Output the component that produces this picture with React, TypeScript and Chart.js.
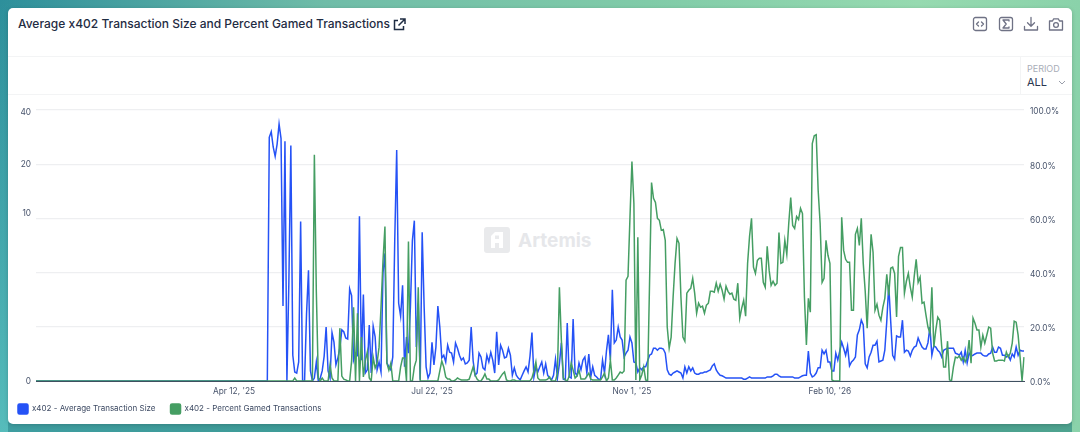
import React, { useEffect, useRef } from "react";
import { Chart, LinearScale, registerables } from "chart.js";

Chart.register(...registerables);

const FONT = "Inter, 'Noto Sans', sans-serif";
const TITLE = "Average x402 Transaction Size and Percent Gamed Transactions";
const SERIES_NAMES = ["x402 - Average Transaction Size", "x402 - Percent Gamed Transactions"];
const FIRST_DAY_UTC = [2025, 0, 1];
const DAY_COUNT = 505;
const TICK_DAYS = ["Apr 12, '25", "Jul 22, '25", "Nov 1, '25", "Feb 10, '26"];
const LEFT_TICKS = [0, 10, 20, 40];
const LEFT_MAX = 41;
const RIGHT_STEP = 20;

const avgTxSize = [
  0,0,0,0,0,0,0,0,0,0, 0,0,0,0,0,0,0,0,0,0, 0,0,0,0,0,0,0,0,0,0, 0,0,0,0,0,0,0,0,0,0,
  0,0,0,0,0,0,0,0,0,0, 0,0,0,0,0,0,0,0,0,0, 0,0,0,0,0,0,0,0,0,0, 0,0,0,0,0,0,0,0,0,0,
  0,0,0,0,0,0,0,0,0,0, 0,0,0,0,0,0,0,0,0,0, 0,0,0,0,0,0,0,0,0,0,
  0,0,0,0,0,0,0,0,0,28.5,
  30.7,25,22,26,34,28,2.11,27,0,3.38,
  25.5,.51,.16,.14,.36,8.8,0,0,1.77,4.1,
  .18,0,.05,.36,0,.05,.18,.49,1.3,.18,
  .05,1.12,.84,.3,.45,.68,1.21,1.15,.96,.93,
  2.95,2.6,.4,.56,.51,9.5,.4,2.65,.14,.2,
  1.37,.14,1.33,.99,.2,.36,.16,3.9,5.4,.34,
  .26,.2,.47,6.6,24,2.23,1.69,3.15,.26,.99,
  .56,2.07,6.6,8.9,.71,2.23,.02,7.5,2.07,.26,
  .05,.14,.84,.3,.71,2.11,1.3,.45,.51,.36,
  .76,.58,.56,.36,.82,.68,.51,.4,.45,.32,
  .34,.4,1.3,.38,.1,.14,.56,.47,.24,.2,
  .51,.36,.58,.4,.14,1.15,.3,.76,.63,.45,
  .47,.68,.51,.1,.24,.1,.05,.02,.1,.18,
  .26,.16,.49,1.12,.07,.26,.16,.26,.36,.14,
  .32,.1,.05,.02,.1,.42,.05,.32,.82,.03,
  .02,1.44,.07,.05,1.58,.14,.1,.34,.2,.4,
  .47,.14,.54,.07,.26,.1,.07,.03,.03,.4,
  .14,.61,1.05,.4,2.9,.82,.9,1.3,.99,.9,
  .47,.56,.63,.99,.82,.36,.34,.16,.24,.2,
  .26,.26,.38,.51,.54,.68,.68,.63,.68,.68,
  .66,.56,.2,.12,.1,.14,.16,.18,.16,.14,
  .05,.26,.14,.26,.18,.24,.14,.12,.12,.14,
  .14,.16,.16,.18,.2,.28,.32,.2,.14,.1,
  .09,.07,.05,.05,.05,.05,.05,.05,.05,.05,
  .05,.03,.03,.05,.07,.05,.05,.05,.05,.05,
  .05,.05,.05,.07,.07,.07,.09,.12,.12,.09,
  .07,.07,.07,.07,.07,.07,.07,.05,.05,.05,
  .07,.09,.1,.1,.61,.14,.07,.09,.14,.24,
  .24,.63,.54,.63,.36,.36,.18,.18,.56,.4,
  .61,.84,.68,.51,.74,.28,.36,.4,.47,1.05,
  1.21,1.54,1.37,.32,.24,.47,.58,.76,.76,.87,
  .36,.38,.4,.63,1.5,3.15,1.5,.51,.42,1.02,
  .99,.99,1.54,.58,.63,.61,.49,.63,.71,.74,
  .96,.82,.71,.66,.66,.82,1.3,.51,.74,.71,
  .63,.58,.47,.63,.66,.68,.68,.68,.68,.56,
  .54,.51,.58,.36,.63,.34,.56,.49,.51,.54,
  .56,.56,.56,.51,.49,.49,.54,.56,.71,.58,
  .58,.71,.68,.51,.51,.47,.51,.4,.54,.47,
  .71,.51,.63,.61,.61,
];

const pctGamed = [
  0,0,0,0,0,0,0,0,0,0, 0,0,0,0,0,0,0,0,0,0, 0,0,0,0,0,0,0,0,0,0, 0,0,0,0,0,0,0,0,0,0,
  0,0,0,0,0,0,0,0,0,0, 0,0,0,0,0,0,0,0,0,0, 0,0,0,0,0,0,0,0,0,0, 0,0,0,0,0,0,0,0,0,0,
  0,0,0,0,0,0,0,0,0,0, 0,0,0,0,0,0,0,0,0,0, 0,0,0,0,0,0,0,0,0,0,
  0,0,0,0,0,0,0,0,0,0, 0,0,0,0,0,0,0,0,0,0,
  0,0,1.1,0,0,0,0,0,0,0,
  0,0,83.5,33,1.1,0,1.1,0,0,0,
  5.9,1.1,0,0,0,19.5,1.8,.7,.4,0,
  0,7.4,27.2,0,25,0,16.2,1.5,7.4,10.7,
  1.1,0,8.8,4.8,6.6,12.5,27.2,44.2,57,6.6,
  4,6.6,0,0,0,0,5.2,8.5,8.5,0,
  51.5,0,0,5.2,7.7,34.6,0,0,0,0,
  0,0,0,0,0,0,3.7,7.4,5.2,1.5,
  .7,.7,0,0,.4,1.1,.7,.4,.4,.4,
  .4,.7,2.9,5.2,2.2,.7,0,0,1.1,2.6,
  .7,.7,0,0,0,0,.4,1.5,2.6,3.3,
  .4,0,0,.4,.4,0,0,0,0,0,
  0,0,0,1.1,3.7,7,1.1,.4,.4,.4,
  .4,.7,1.5,0,0,0,2.9,34.6,15.1,1.1,
  .4,0,1.8,6.6,4,1.1,1.8,4,.7,.7,
  .7,1.8,2.9,.7,.4,.4,.4,.4,.4,1.5,
  2.9,0,1.1,7.7,.4,.4,1.1,2.2,3.3,2.9,
  3.7,37.2,38.6,60.4,81,65.5,.4,53,.4,2.2,
  5.2,.4,0,36.8,73.2,67.4,65.9,60,59.3,55.6,
  55.9,51.9,19.9,12.1,16.2,30.9,43.4,52.6,50.8,30.9,
  16.2,14.7,32.4,33.5,34.2,37.9,32.4,25,28.7,27.2,
  27.6,25,28,28.7,33.1,33.1,32.8,36.1,33.1,35.7,
  33.5,30.2,35,33.1,32,32.4,30.2,29.8,36.1,23.2,
  26.9,29.8,23.9,43.4,53.4,60,42,39.7,44.5,45.3,
  45.3,36.4,34.6,49.7,40.8,35.3,36.8,35.3,36.1,54.8,
  43.4,43.8,51.9,46.7,58.2,67.7,57.4,56.3,60.7,59.6,
  63.7,61.8,30.9,13.3,30.5,25.4,87.6,90.5,90.9,70.3,
  58.2,36.4,37.9,51.9,46.4,43.4,.4,0,0,0,
  0,60.4,48.2,44.9,43.8,43.8,26.1,26.1,54.1,56.3,
  50,60,43.4,33.1,19.5,37.2,54.1,47.5,26.1,28.3,
  24.3,22.4,27.2,30.5,39.4,31.6,41.6,42,39.7,23.6,
  46,49.3,49.3,32.4,36.8,39.7,34.6,30.9,38.6,44.9,
  36.4,38.3,28.7,29.1,24.3,19.9,17.7,34.6,12.5,18.8,
  23.6,22.4,12.9,5.2,5.2,14.7,.4,0,5.2,8.8,
  8.5,9.2,7.7,8.8,7,8.8,15.1,6.6,23.2,21.3,
  18.8,18.8,12.5,16.9,14,16.9,19.9,19.5,10.3,7.4,
  7.4,7.7,7.7,7.7,7.4,10.7,8.8,10.3,14,22.1,
  21.7,16.9,8.8,0,8.8,
];

const MONTHS = ["Jan","Feb","Mar","Apr","May","Jun","Jul","Aug","Sep","Oct","Nov","Dec"];
const categories: string[] = [];
for (let i = 0; i < DAY_COUNT; i++) {
  const d = new Date(Date.UTC(FIRST_DAY_UTC[0], FIRST_DAY_UTC[1], FIRST_DAY_UTC[2] + i));
  categories.push(`${MONTHS[d.getUTCMonth()]} ${d.getUTCDate()}, '${String(d.getUTCFullYear()).slice(2)}`);
}

const SYM_C = 1.3;
const sym = (v: number) => Math.log(1 + Math.max(v, 0) / SYM_C);

class SymlogScale extends LinearScale {
  static id = "symlog";
  static defaults = {};
  buildTicks() {
    return LEFT_TICKS.map((value) => ({ value }));
  }
  getPixelForValue(v: number) {
    return this.getPixelForDecimal(sym(v) / sym(this.max));
  }
  getValueForPixel(p: number) {
    return SYM_C * (Math.exp(this.getDecimalForPixel(p) * sym(this.max)) - 1);
  }
}
Chart.register(SymlogScale);

const BLUE = "#2552f6";
const GREEN = "#459e63";
const TICK_COLOR = "#47536b";
const GRID = "#eeeff1";

const legendShift = {
  id: "legendShift",
  afterLayout(chart: any) {
    chart.legend.left += 12;
  },
};

const Icon = ({ x, children }: any) => (
  <svg width="16" height="16" viewBox="0 0 16 16" fill="none" stroke="#6f7285" strokeWidth="1.3" strokeLinecap="round" strokeLinejoin="round"
    style={{ position: "absolute", left: x - 8, top: 16 }}>{children}</svg>
);

export default function App() {
  const ref = useRef<HTMLCanvasElement>(null);
  useEffect(() => {
    const chart = new Chart(ref.current!, {
      type: "line",
      plugins: [legendShift],
      data: {
        labels: categories,
        datasets: [
          { label: SERIES_NAMES[0], data: avgTxSize, yAxisID: "yLeft", borderColor: BLUE, backgroundColor: BLUE, borderWidth: 1.5, pointRadius: 0, tension: 0, order: 2 },
          { label: SERIES_NAMES[1], data: pctGamed, yAxisID: "yRight", borderColor: GREEN, backgroundColor: GREEN, borderWidth: 1.5, pointRadius: 0, tension: 0, order: 1 },
        ],
      },
      options: {
        animation: false,
        responsive: false,
        devicePixelRatio: 1,
        layout: { padding: { top: 110, left: 0, right: 0, bottom: 8 } },
        scales: {
          x: {
            offset: false,
            grid: { display: false, drawTicks: false },
            border: { color: "#3f5060", width: 1 },
            afterFit: (s: any) => { s.height = 17; },
            ticks: {
              autoSkip: false, maxRotation: 0, padding: 6, font: { family: FONT, size: 8.3 }, color: TICK_COLOR,
              callback(this: any, v: any) {
                const l = categories[v];
                return TICK_DAYS.includes(l) ? l : null;
              },
            },
          },
          yLeft: {
            type: "symlog" as any, position: "left", min: 0, max: LEFT_MAX,
            grid: { display: false, drawTicks: false }, border: { display: false },
            afterFit: (s: any) => { s.width = 36; },
            ticks: { padding: 5, labelOffset: 1, font: { family: FONT, size: 8.3 }, color: TICK_COLOR, callback: (v: any) => String(v) },
          },
          yRight: {
            type: "linear", position: "right", min: 0, max: 100,
            grid: { color: GRID, lineWidth: 1.2, drawTicks: false }, border: { display: false },
            afterFit: (s: any) => { s.width = 56; },
            ticks: { stepSize: RIGHT_STEP, padding: 6, labelOffset: 2, font: { family: FONT, size: 8.3 }, color: TICK_COLOR, callback: (v: any) => `${Number(v).toFixed(1)}%` },
          },
        },
        plugins: {
          tooltip: { enabled: false },
          legend: {
            position: "bottom", align: "start",
            labels: {
              boxWidth: 10, boxHeight: 10, padding: 6, font: { family: FONT, size: 8 }, color: "#3d4a63", useBorderRadius: true, borderRadius: 1.5,
              sort: (a: any, b: any) => a.datasetIndex - b.datasetIndex,
              generateLabels: (c: any) => Chart.defaults.plugins.legend.labels.generateLabels(c).map((l: any) => ({ ...l, text: l.text + "\u00A0\u00A0\u00A0\u00A0" })),
            } as any,
          },
        },
      } as any,
    });
    return () => chart.destroy();
  }, []);

  return (
    <div style={{ position: "fixed", inset: 0, width: 1080, height: 432, overflow: "hidden",
      background: "radial-gradient(ellipse 500px 430px at 0% 100%, #56bcbb 0%, rgba(86,188,187,0) 100%), linear-gradient(90deg, #2d8f9b 0%, #6fbca8 30%, #80cba8 60%, #96dab0 85%, #8ad2aa 100%)" }}>
      <div style={{ position: "absolute", left: 8, right: 8, bottom: 0, height: 10, background: "linear-gradient(90deg, #3e9da0, #3f9a90 50%, #4ea38f 100%)" }} />
      <div style={{ position: "absolute", left: 8, top: 8, width: 1064, height: 416, background: "#fff", borderRadius: 5, boxShadow: "0 1px 4px rgba(0,0,0,.18)" }} />
      <div style={{ position: "absolute", left: 8, top: 56, width: 1064, height: 1, background: "#f3f4f5" }} />
      <div style={{ position: "absolute", left: 8, top: 94, width: 1064, height: 1, background: "#f3f4f5" }} />
      <div style={{ position: "absolute", left: 1020, top: 56, width: 1, height: 38, background: "#f3f4f5" }} />
      <div style={{ position: "absolute", left: 18, top: 15, font: `500 12px/18px ${FONT}`, color: "#1f2c43", whiteSpace: "nowrap" }}>{TITLE}</div>
      <svg width="13" height="13" viewBox="0 0 13 13" fill="none" stroke="#1f2c43" strokeWidth="1.5" style={{ position: "absolute", left: 393, top: 18 }}>
        <path d="M5 2.5H1.5V11.5H10.5V8M7 1H12V6M12 1L5.5 7.5" />
      </svg>
      <Icon x={980}><rect x="1.5" y="1.5" width="13" height="13" rx="2" /><path d="M6.5 6L4.5 8l2 2M9.5 6l2 2-2 2" /></Icon>
      <Icon x={1006}><rect x="1.5" y="1.5" width="13" height="13" rx="2" /><path d="M11 5V4H5l3.2 4L5 12h6v-1" /></Icon>
      <Icon x={1031}><path d="M8 1.5V10M4.5 6.8L8 10.3l3.5-3.5M1.5 10.5V14h13v-3.5" /></Icon>
      <Icon x={1056}><path d="M1.5 5h3l1.2-2.2h4.6L11.5 5h3v9h-13z" /><circle cx="8" cy="9" r="2.4" /></Icon>
      <div style={{ position: "absolute", left: 1027, top: 63, font: `400 9px/12px ${FONT}`, color: "#a9adb8" }}>PERIOD</div>
      <div style={{ position: "absolute", left: 1027, top: 75, font: `400 11px/14px ${FONT}`, color: "#2a3750" }}>ALL</div>
      <svg width="8" height="5" viewBox="0 0 8 5" fill="none" stroke="#9a9eaa" strokeWidth="1" style={{ position: "absolute", left: 1058, top: 80 }}><path d="M1 1l3 3 3-3" /></svg>
      <svg width="28" height="28" viewBox="0 0 28 28" style={{ position: "absolute", left: 484, top: 227 }}>
        <rect width="26" height="26" rx="3" fill="#e9eaec" />
        <path d="M7 21V9l4-4h8v16h-4v-5h-4v5zM11 12h4V8.500h-4z" fill="#fff" />
      </svg>
      <div style={{ position: "absolute", left: 518, top: 228, font: `700 19px/26px ${FONT}`, color: "#e6e7ea" }}>Artemis</div>
      <canvas ref={ref} width={1080} height={432} style={{ position: "absolute", left: 0, top: 0, width: 1080, height: 432 }} />
    </div>
  );
}
